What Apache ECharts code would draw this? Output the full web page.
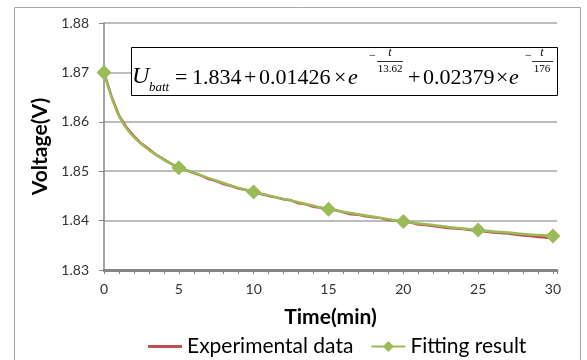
<!DOCTYPE html>
<html>
<head>
<meta charset="utf-8">
<script src="https://cdn.jsdelivr.net/npm/echarts@6/dist/echarts.min.js"></script>
<style>
html,body{margin:0;padding:0;background:#fff;}
#c{width:587px;height:360px;}
</style>
</head>
<body>
<div id="c"></div>
<script>
// ---- data ----
const expTime = [0,0.5,1,1.5,2,2.5,3,3.5,4,4.5,5,5.5,6,6.5,7,7.5,8,8.5,9,9.5,10,10.5,11,11.5,12,12.5,13,13.5,14,14.5,15,15.5,16,16.5,17,17.5,18,18.5,19,19.5,20,20.5,21,21.5,22,22.5,23,23.5,24,24.5,25,25.5,26,26.5,27,27.5,28,28.5,29,29.5,30];
const expVoltage = [1.8700,1.8652,1.8613,1.8589,1.8571,1.8556,1.8545,1.8533,1.8524,1.8515,1.8506,1.8502,1.8496,1.8491,1.8484,1.8480,1.8474,1.8470,1.8465,1.8462,1.8456,1.8454,1.8450,1.8447,1.8443,1.8441,1.8435,1.8433,1.8428,1.8426,1.8422,1.8421,1.8417,1.8413,1.8412,1.8409,1.8407,1.8405,1.8401,1.8400,1.8397,1.8396,1.8392,1.8391,1.8389,1.8387,1.8385,1.8384,1.8383,1.8381,1.8379,1.8378,1.8376,1.8375,1.8374,1.8372,1.8370,1.8369,1.8367,1.8366,1.8364];
const fitTime = [0,0.5,1,1.5,2,2.5,3,3.5,4,4.5,5,6,7,8,9,10,11,12,13,14,15,16,17,18,19,20,21,22,23,24,25,26,27,28,29,30];
const fitVoltage = [1.8700,1.8650,1.8612,1.8587,1.8569,1.8555,1.8543,1.8533,1.8523,1.8515,1.8507,1.8497,1.8486,1.8476,1.8466,1.8458,1.8451,1.8444,1.8437,1.8430,1.8423,1.8418,1.8413,1.8408,1.8403,1.8398,1.8394,1.8391,1.8387,1.8384,1.8381,1.8378,1.8376,1.8373,1.8371,1.8369];
const markerTimes = [0,5,10,15,20,25,30];
const yTicks = [1.83,1.84,1.85,1.86,1.87,1.88];
const seriesNames = ['Experimental data','Fitting result'];

const RED = '#c0504d', GREEN = '#9bbb59', AXIS = '#868686', GRID = '#a6a6a6';
const FONT = 'Lato, "Open Sans", sans-serif';
const SERIF = '"Liberation Serif", "DejaVu Serif", serif';

const expData = expTime.map((t,i)=>[t, expVoltage[i]]);
const fitData = fitTime.map((t,i)=> markerTimes.indexOf(t) >= 0
  ? {value:[t, fitVoltage[i]]}
  : {value:[t, fitVoltage[i]], symbol:'none'});

const chart = echarts.init(document.getElementById('c'), null, {renderer:'canvas'});

function txt(text, x, y, size, italic, align){
  return {type:'text', z:101, x:x, y:y, style:{text:text, fill:'#000',
    font:(italic?'italic ':'') + size + 'px ' + SERIF,
    align: align || 'left', verticalAlign:'middle'}};
}

const lineIcon = 'path://M0,5.5 L34,5.5 L34,8.5 L0,8.5 Z M0,0 L0.01,0 L0,0.01 Z M34,14 L33.99,14 L34,13.99 Z';

chart.setOption({
  animation:false,
  backgroundColor:'#fff',
  grid:{left:104, right:30, top:23, bottom:90},
  xAxis:{
    type:'value', min:0, max:30.27, interval:5,
    name:'Time(min)', nameLocation:'middle', nameGap:37,
    nameTextStyle:{fontFamily:FONT, fontSize:21, fontWeight:'bold', color:'#000'},
    axisLine:{show:true, lineStyle:{color:AXIS, width:3}},
    axisTick:{show:true, length:4, lineStyle:{color:AXIS}},
    minorTick:{show:true, splitNumber:5, length:4, lineStyle:{color:AXIS}},
    axisLabel:{margin:12, fontFamily:FONT, fontSize:14, color:'#333',
      formatter:v=> (Math.abs(v - Math.round(v))<1e-6 && Math.round(v)%5===0) ? String(Math.round(v)) : ''},
    splitLine:{show:false}
  },
  yAxis:{
    type:'value', min:yTicks[0], max:yTicks[yTicks.length-1], interval:0.01,
    name:'Voltage(V)', nameLocation:'middle', nameGap:50,
    nameTextStyle:{fontFamily:FONT, fontSize:21, fontWeight:'bold', color:'#000'},
    axisLine:{show:true, lineStyle:{color:AXIS, width:1.5}},
    axisTick:{show:true, length:5, lineStyle:{color:AXIS}},
    axisLabel:{margin:15, fontFamily:FONT, fontSize:14, color:'#333', formatter:v=>v.toFixed(2)},
    splitLine:{show:true, lineStyle:{color:GRID, width:1.5}}
  },
  legend:{
    data:[{name:seriesNames[0], icon:lineIcon}, {name:seriesNames[1]}],
    left:143, top:331, itemWidth:34, itemHeight:14, itemGap:17,
    textStyle:{fontFamily:FONT, fontSize:21, color:'#000'}
  },
  series:[
    {name:seriesNames[0], type:'line', data:expData, symbol:'none',
     lineStyle:{color:RED, width:2.5}, itemStyle:{color:RED}, z:2},
    {name:seriesNames[1], type:'line', data:fitData, symbol:'diamond', symbolSize:15,
     smooth:0.3, lineStyle:{color:GREEN, width:2.5}, itemStyle:{color:GREEN}, z:3}
  ],
  graphic:[
    {type:'rect', z:100, shape:{x:14.5, y:7.5, width:566, height:400}, style:{fill:'none', stroke:'#a6a6a6', lineWidth:1}},
    {type:'rect', z:100, shape:{x:131.5, y:47.5, width:426, height:48}, style:{fill:'#fff', stroke:'#000', lineWidth:1}},
    txt('U', 132, 77, 24, true),
    txt('batt', 149, 88, 13, true),
    txt('=', 175, 78, 22),
    txt('1.834', 192, 78, 22),
    txt('+', 244, 78, 22),
    txt('0.01426', 259, 78, 22),
    txt('\u00d7', 334, 78, 22),
    txt('e', 348, 78, 22, true),
    txt('\u2212', 369, 56, 12),
    txt('t', 390, 53, 12, true, 'center'),
    {type:'line', z:101, shape:{x1:377, y1:61.5, x2:403, y2:61.5}, style:{stroke:'#000', lineWidth:0.8}},
    txt('13.62', 390, 69, 11, false, 'center'),
    txt('+', 408, 78, 22),
    txt('0.02379', 423, 78, 22),
    txt('\u00d7', 496, 78, 22),
    txt('e', 509, 78, 22, true),
    txt('\u2212', 525, 56, 12),
    txt('t', 542, 53, 12, true, 'center'),
    {type:'line', z:101, shape:{x1:532, y1:61.5, x2:553, y2:61.5}, style:{stroke:'#000', lineWidth:0.8}},
    txt('176', 542, 69, 11, false, 'center')
  ]
});
</script>
</body>
</html>
